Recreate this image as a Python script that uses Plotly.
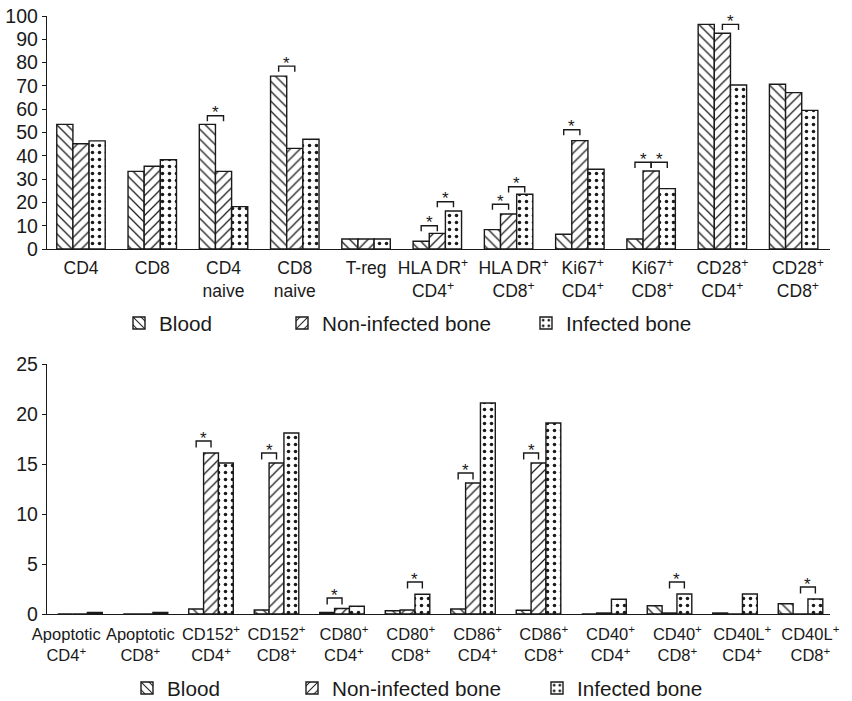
import plotly.graph_objects as go

# ---------------- data ----------------
series_names = ["Blood", "Non-infected bone", "Infected bone"]

top_categories = [
    "CD4", "CD8", "CD4<br>naive", "CD8<br>naive", "T-reg",
    "HLA DR<sup>+</sup><br>CD4<sup>+</sup>", "HLA DR<sup>+</sup><br>CD8<sup>+</sup>",
    "Ki67<sup>+</sup><br>CD4<sup>+</sup>", "Ki67<sup>+</sup><br>CD8<sup>+</sup>",
    "CD28<sup>+</sup><br>CD4<sup>+</sup>", "CD28<sup>+</sup><br>CD8<sup>+</sup>",
]
top_blood = [53.5, 33.3, 53.5, 74.2, 4.3, 3.3, 8.3, 6.3, 4.3, 96.4, 70.7]
top_noninf = [45.2, 35.5, 33.3, 43.2, 4.3, 6.7, 15.0, 46.5, 33.5, 92.6, 67.1]
top_inf = [46.4, 38.3, 18.2, 47.1, 4.3, 16.3, 23.5, 34.2, 25.9, 70.4, 59.5]
top_yticks = [0, 10, 20, 30, 40, 50, 60, 70, 80, 90, 100]

bottom_categories = [
    "Apoptotic<br>CD4<sup>+</sup>", "Apoptotic<br>CD8<sup>+</sup>",
    "CD152<sup>+</sup><br>CD4<sup>+</sup>", "CD152<sup>+</sup><br>CD8<sup>+</sup>",
    "CD80<sup>+</sup><br>CD4<sup>+</sup>", "CD80<sup>+</sup><br>CD8<sup>+</sup>",
    "CD86<sup>+</sup><br>CD4<sup>+</sup>", "CD86<sup>+</sup><br>CD8<sup>+</sup>",
    "CD40<sup>+</sup><br>CD4<sup>+</sup>", "CD40<sup>+</sup><br>CD8<sup>+</sup>",
    "CD40L<sup>+</sup><br>CD4<sup>+</sup>", "CD40L<sup>+</sup><br>CD8<sup>+</sup>",
]
bottom_blood = [0, 0, 0.5, 0.4, 0.15, 0.33, 0.5, 0.37, 0, 0.83, 0.1, 1.03]
bottom_noninf = [0, 0, 16.1, 15.1, 0.55, 0.4, 13.1, 15.1, 0.1, 0.1, 0, 0]
bottom_inf = [0.15, 0.15, 15.1, 18.1, 0.77, 1.97, 21.1, 19.1, 1.47, 2.0, 2.0, 1.5]
bottom_yticks = [0, 5, 10, 15, 20, 25]

# significance brackets: (category index, series a, series b, bracket height)
top_sig = [(2, 0, 1, 57.2), (3, 0, 1, 78.5), (5, 0, 1, 10.0), (5, 1, 2, 20.3),
           (6, 0, 1, 19.2), (6, 1, 2, 26.7), (7, 0, 1, 51.2), (8, 0, 1, 37.2),
           (8, 1, 2, 37.2), (9, 1, 2, 96.4)]
bottom_sig = [(2, 0, 1, 17.3), (3, 0, 1, 16.1), (4, 0, 1, 1.6), (5, 1, 2, 3.2),
              (6, 0, 1, 14.1), (7, 0, 1, 16.1), (9, 1, 2, 3.2), (11, 1, 2, 2.7)]

# ---------------- style ----------------
INK = "#1a1a1a"
FONT = "Liberation Sans, Arial, Helvetica, sans-serif"
BARGAP = 0.32
W = (1 - BARGAP) / 3
patterns = [
    dict(shape="\\", size=7, solidity=0.18),
    dict(shape="/", size=7, solidity=0.18),
    dict(shape=".", size=7, solidity=0.2),
]
# small nudges of the category labels relative to the bar groups (as in the original)
top_label_nudge = [0, 0, 0, 0, 0, -0.06, 0.07, 0.04, 0.02, 0, 0.06]
bottom_label_nudge = [-0.21, -0.08, 0, 0, 0.03, 0.05, 0.07, 0.08, 0.10, 0.12, 0.11, 0.15]

fig = go.Figure()

top_sets = [top_blood, top_noninf, top_inf]
bottom_sets = [bottom_blood, bottom_noninf, bottom_inf]
for k in range(3):
    p = dict(patterns[k], fgcolor=INK, bgcolor="white", fillmode="replace")
    fig.add_trace(go.Bar(
        x=list(range(len(top_categories))), y=top_sets[k], name=series_names[k],
        xaxis="x", yaxis="y", legend="legend" if k == 0 else f"legend{k+1}",
        showlegend=True,
        marker=dict(color="white", line=dict(color=INK, width=1.4), pattern=p),
    ))
for k in range(3):
    p = dict(patterns[k], fgcolor=INK, bgcolor="white", fillmode="replace")
    fig.add_trace(go.Bar(
        x=list(range(len(bottom_categories))), y=bottom_sets[k], name=series_names[k],
        xaxis="x2", yaxis="y2", legend=f"legend{k+4}", showlegend=True,
        marker=dict(color="white", line=dict(color=INK, width=1.4), pattern=p),
    ))

shapes = []
annotations = []
def add_brackets(sig, xref, yref, leg):
    for (i, a, b, h) in sig:
        xa = i + (a - 1) * W
        xb = i + (b - 1) * W
        shapes.append(dict(
            type="path", xref=xref, yref=yref, layer="above",
            path=f"M {xa},{h-leg} L {xa},{h} L {xb},{h} L {xb},{h-leg}",
            line=dict(color=INK, width=1.4),
        ))
        annotations.append(dict(
            x=(xa + xb) / 2, y=h, xref=xref, yref=yref, text="*", showarrow=False,
            yanchor="middle", yshift=3, font=dict(size=17, color=INK, family=FONT),
        ))

add_brackets(top_sig, "x", "y", 2.4)
add_brackets(bottom_sig, "x2", "y2", 0.65)

axis_common = dict(showline=True, linecolor=INK, linewidth=1.4, showgrid=False,
                   zeroline=False, automargin=False)

H = 701
WID = 852
# plot area spans 16..614 px vertically
def px_y(py):
    return (614 - py) / 598

legend_common = dict(orientation="h", xanchor="left", yanchor="middle",
                     xref="container", yref="container",
                     font=dict(size=20.7, color=INK, family=FONT),
                     bgcolor="rgba(0,0,0,0)", borderwidth=0)
legend_pos = {
    "legend": (119, 323), "legend2": (282, 323), "legend3": (526, 323),
    "legend4": (127, 688), "legend5": (292, 688), "legend6": (537, 688),
}
legends = {k: dict(legend_common, x=v[0] / WID, y=1 - v[1] / H) for k, v in legend_pos.items()}

fig.update_layout(
    width=WID, height=H,
    margin=dict(l=47, r=22, t=16, b=87, autoexpand=False),
    paper_bgcolor="white", plot_bgcolor="white",
    showlegend=True,
    barmode="group", bargap=BARGAP, bargroupgap=0,
    font=dict(family=FONT, color=INK),
    xaxis=dict(axis_common, domain=[0, 1], anchor="y", range=[-0.477, 10.51],
               tickmode="array",
               tickvals=[i + d for i, d in enumerate(top_label_nudge)],
               ticktext=top_categories, ticks="", tickangle=0, ticklabelstandoff=3,
               tickfont=dict(size=17.5, color=INK)),
    yaxis=dict(axis_common, domain=[px_y(249), 1], anchor="x", range=[0, 100],
               tickmode="array", tickvals=top_yticks, ticks="outside", ticklen=4,
               tickcolor=INK, tickwidth=1.2, tickfont=dict(size=19.5, color=INK)),
    xaxis2=dict(axis_common, domain=[0, 1], anchor="y2", range=[-0.504, 11.45],
                tickmode="array",
                tickvals=[i + d for i, d in enumerate(bottom_label_nudge)],
                ticktext=bottom_categories, ticks="", tickangle=0, ticklabelstandoff=5,
                tickfont=dict(size=16.5, color=INK)),
    yaxis2=dict(axis_common, domain=[0, px_y(364)], anchor="x2", range=[0, 25],
                tickmode="array", tickvals=bottom_yticks, ticks="outside", ticklen=4,
                tickcolor=INK, tickwidth=1.2, tickfont=dict(size=19.5, color=INK)),
    shapes=shapes, annotations=annotations,
    **legends,
)

fig.write_html("out.html", config={"displayModeBar": False},
               post_script="document.body.style.margin='0px';")
